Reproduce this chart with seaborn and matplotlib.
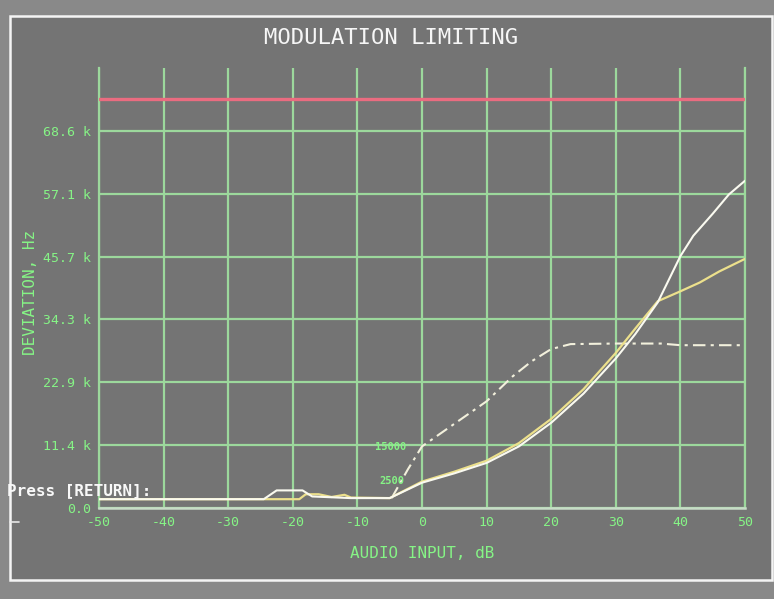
import numpy as np
import pandas as pd
import matplotlib
matplotlib.use("Agg")
import matplotlib.pyplot as plt
from matplotlib.patches import Rectangle
from matplotlib.lines import Line2D
import seaborn as sns

# Audio input level (dB) and measured deviation (kHz) for each test tone
tone_a_db = [-50, -24.5, -22.5, -18.5, -17, -11, -5, 0, 5, 10, 15, 20, 25, 30, 33, 36.5, 40, 42, 45, 47.5, 50]
tone_a_dev = [1.6, 1.6, 3.2, 3.2, 2.1, 1.8, 1.8, 4.6, 6.3, 8.2, 11.2, 15.5, 20.8, 27.2, 31.6, 37.4, 45.8, 49.5, 53.5, 57.0, 59.5]

tone_b_db = [-50, -19, -18, -16, -14, -12, -11, -5, 0, 5, 10, 15, 20, 25, 30, 33, 36.5, 40, 43, 46, 50]
tone_b_dev = [1.6, 1.6, 2.5, 2.5, 2.0, 2.4, 1.9, 1.8, 4.8, 6.6, 8.6, 11.8, 16.2, 21.6, 28.2, 32.6, 37.6, 39.4, 41.0, 43.0, 45.3]

tone_c_db = [-4.7, -2.2, 0, 5, 10, 14, 17, 20, 23, 30, 37, 40, 50]
tone_c_dev = [1.8, 7.0, 11.2, 15.3, 19.4, 23.9, 26.7, 28.9, 29.8, 29.9, 29.9, 29.6, 29.6]

limit_dev = 74.3

x_ticks = [-50, -40, -30, -20, -10, 0, 10, 20, 30, 40, 50]
x_tick_labels = ["-50", "-40", "-30", "-20", "-10", "0", "10", "20", "30", "40", "50"]
y_ticks = [0, 80 / 7, 160 / 7, 240 / 7, 320 / 7, 400 / 7, 480 / 7]
y_tick_labels = ["0.0", "11.4 k", "22.9 k", "34.3 k", "45.7 k", "57.1 k", "68.6 k"]

W, H = 774, 599
BG_OUT = "#898989"
BG_IN = "#747474"
GRID = "#9cd89c"
TXT = "#86f486"
MONO = "DejaVu Sans Mono"

sns.set_theme(style="dark")
plt.rcParams["font.family"] = [MONO]

fig = plt.figure(figsize=(W / 100, H / 100), dpi=100, facecolor=BG_OUT)

def fx(px):
    return px / W

def fy(py):
    return 1 - py / H

# Screen frame
fig.patches.append(Rectangle((fx(10), fy(580)), fx(772) - fx(10), fy(16) - fy(580),
                             transform=fig.transFigure, facecolor=BG_IN,
                             edgecolor="#f4f4f4", linewidth=1.8, zorder=-5))

ax = fig.add_axes([fx(99), fy(508), fx(745) - fx(99), fy(68) - fy(508)])
ax.set_zorder(2)
ax.set_facecolor(BG_IN)

ax.set_xlim(-50, 50)
ax.set_ylim(0, 80)
ax.set_xticks(x_ticks)
ax.set_xticklabels(x_tick_labels)
ax.set_yticks(y_ticks)
ax.set_yticklabels(y_tick_labels)
ax.tick_params(axis="both", length=0, labelcolor=TXT, labelsize=9.5)
ax.tick_params(axis="x", pad=6)
ax.tick_params(axis="y", pad=6)
ax.grid(True, color=GRID, linewidth=1.6)
ax.spines["top"].set_visible(False)
for name in ("left", "right"):
    ax.spines[name].set_color(GRID)
    ax.spines[name].set_linewidth(1.6)
ax.spines["bottom"].set_color("#c8dcc8")
ax.spines["bottom"].set_linewidth(1.8)

# Deviation limit
ax.axhline(limit_dev, color="#ea6c80", linewidth=2.4, zorder=3)

sns.lineplot(x=tone_c_db, y=tone_c_dev, ax=ax, color="#f2f0dc", linewidth=1.5,
             linestyle=(0, (6, 2.5, 1.5, 2.5)), sort=False, zorder=4)
sns.lineplot(x=tone_b_db, y=tone_b_dev, ax=ax, color="#ece08c", linewidth=1.6, sort=False, zorder=4)
sns.lineplot(x=tone_a_db, y=tone_a_dev, ax=ax, color="#fafaf0", linewidth=1.5, sort=False, zorder=5)

ax.text(-2.5, 11.0, "15000", color=TXT, fontsize=7.5, fontweight="bold",
        ha="right", va="center", zorder=6)
ax.text(-2.8, 4.9, "2500", color=TXT, fontsize=7.5, fontweight="bold",
        ha="right", va="center", zorder=6)

ax.set_xlabel("")
ax.set_ylabel("")

fig.text(fx(391), fy(38), "MODULATION LIMITING", color="#f6f6f6", fontsize=16,
         ha="center", va="center", family=MONO)
fig.text(fx(422), fy(553), "AUDIO INPUT, dB", color=TXT, fontsize=11.5,
         ha="center", va="center", family=MONO)
fig.text(fx(31), fy(292), "DEVIATION, Hz", color=TXT, fontsize=11.5, rotation=90,
         ha="center", va="center", family=MONO)
fig.text(fx(7), fy(491), "Press [RETURN]:", color="#f8f8f8", fontsize=11.5,
         fontweight="bold", ha="left", va="center", family=MONO, zorder=10)

# Cursor mark at the left edge
fig.add_artist(Line2D([fx(10), fx(19)], [fy(522), fy(522)], transform=fig.transFigure,
                      color="#e8e8e8", linewidth=1.2))

fig.savefig("out.png", dpi=100, facecolor=fig.get_facecolor())
